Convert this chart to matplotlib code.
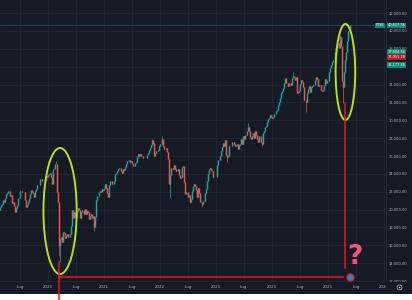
import matplotlib
matplotlib.use('Agg')
import matplotlib.pyplot as plt
import matplotlib.dates as mdates
from matplotlib.patches import Ellipse, Rectangle
from matplotlib.lines import Line2D
import numpy as np
import pandas as pd

# FTSE MIB, weekly closes (week ending Friday)
first_week = '2019-02-15'
first_open = 19700
closes = [
    # 2019
    19900, 20250,
    20500, 20600, 21100, 20900, 21300,
    21700, 21850, 22050, 21500,
    21600, 20750, 20800, 20400, 19750,
    20150, 20500, 21250, 21300,
    22100, 22050, 21950, 22000,
    21050, 20300, 20500, 20900, 21350,
    21700, 22150, 22000, 21900,
    21400, 22100, 22350, 22750,
    22800, 23400, 23450, 23150, 23150,
    23200, 23350, 23750, 23700,
    # 2020
    23850, 24000, 24150, 23700, 22900,
    24500, 25050, 25150, 21950,
    20800, 15950, 16750, 16950,
    16400, 17450, 17400, 16850,
    17050, 17300, 16900, 17300, 18200,
    20000, 19050, 19700, 19150,
    19750, 19850, 20200, 19950, 19100,
    19700, 19950, 19550, 20050,
    19550, 19850, 19700, 18950,
    19250, 19550, 19100, 19250, 18050,
    19150, 21050, 21500, 22000,
    22100, 21950, 22300, 22200,
    # 2021
    22250, 22850, 22400, 21900, 21400,
    22700, 23200, 23150, 22850,
    23250, 24000, 24100, 24350,
    24600, 24650, 24650, 24300, 24150,
    24500, 24450, 24750, 25100,
    25450, 25600, 25350, 25450,
    25100, 24850, 24900, 25250, 25350,
    25850, 26250, 25950, 26250,
    26050, 25750, 25750, 25750,
    25800, 26100, 26350, 26650, 26850,
    27250, 27750, 27500, 25950,
    26300, 26550, 26650, 27150, 27350,
    # 2022
    27400, 27950, 27100, 26750,
    26750, 26950, 26400, 25650,
    22900, 23850, 24700, 24550,
    25000, 24600, 24350, 24300, 24550,
    23900, 23500, 23700, 24750,
    24850, 23050, 21800, 21950,
    21450, 21600, 20900, 21200, 22100,
    22600, 22900, 22650, 22150,
    21450, 22450, 21850, 20900, 20650,
    21000, 20950, 21900, 22350,
    23150, 24000, 24550, 24700,
    24450, 24350, 23650, 23700, 23700,
    # 2023
    24950, 25550, 25600, 25950,
    26550, 27050, 27450, 27100,
    27800, 26150, 25900, 26000, 27100,
    27100, 27600, 27600, 27350,
    27100, 27200, 27300, 26750,
    27250, 27400, 27950, 27300, 28250,
    27900, 28300, 28850, 29300,
    28750, 28100, 27950, 28250,
    28600, 28050, 28800, 28400, 27900,
    27600, 28250, 27550, 27300,
    28600, 28800, 29300, 29400,
    29800, 30150, 30300, 30550, 30350,
    # 2024
    30200, 30400, 30650, 31000,
    31100, 31700, 32100, 32500,
    33100, 33300, 33650, 34200, 34750,
    34200, 34200, 33800, 34200,
    34000, 34700, 35000, 34850, 34550,
    34850, 33050, 33200, 33300,
    34100, 34500, 34300, 33700,
    32300, 32000, 33000, 33450, 33850,
    33150, 33700, 33850, 34000,
    33950, 34500, 34800, 34600,
    33850, 34000, 33350, 33250, 33350,
    33900, 34650, 34200, 34350,
    # 2025
    34450, 35400, 35900, 36200, 36550,
    36700, 37600, 38250, 38650,
    38650, 38050, 39300, 38350,
    34450, 33700, 35450, 36800,
    37700, 38900, 40050, 40617.56,
]
# visible wicks
high_weeks = ['2020-02-21', '2021-11-12', '2022-01-14', '2023-07-28', '2024-05-17', '2025-03-21', '2025-05-23']
high_vals = [25480, 27950, 28200, 29700, 35400, 39550, 40650]
low_weeks = ['2020-03-13', '2020-03-20', '2020-10-30', '2022-03-11', '2022-07-15', '2022-09-30',
             '2023-03-17', '2023-10-27', '2024-08-09', '2025-04-11']
low_vals = [14800, 14150, 17650, 21350, 20700, 20300, 25300, 27100, 30900, 31950]

price_ticks = list(range(12000, 42001, 2000))
hidden_ticks = [36000]  # sits fully under the scale tags
time_ticks = ['2019-07-01', '2020-01-01', '2020-07-01', '2021-01-01', '2021-07-01', '2022-01-01',
              '2022-07-01', '2023-01-01', '2023-07-01', '2024-01-01', '2024-07-01', '2025-01-01',
              '2025-07-01', '2026-01-01']
time_labels = ['Lug', '2020', 'Lug', '2021', 'Lug', '2022', 'Lug', '2023', 'Lug', '2024', 'Lug',
               '2025', 'Lug', '2026']
scale_tags = [37684.56, 37051.28, 36177.86]
scale_tag_colors = ['#0b8c74', '#a3262e', '#0b8c74']

# annotations
circle_centers = [('2020-03-19', 19840), ('2025-04-24', 35410)]
circle_sizes = [(217, 14110), (128, 10750)]
drop_dates = ['2020-03-09', '2025-04-21']
drop_lows = [14150, 31950]
drop_ends = [9800, 13460]
base_level = 12450
base_end = '2025-04-08'
now_date = '2025-05-23'

bg = '#161a25'
grid_c = '#222632'
txt_c = '#b2b5be'
up_c = '#26a69a'
dn_c = '#ef5350'

fig = plt.figure(figsize=(4.12, 3.0), dpi=100, facecolor=bg)
fig.add_artist(Rectangle((0, 0), 1, 6 / 300, transform=fig.transFigure, fc='white', ec='none', zorder=-1))
ax = fig.add_axes([0, 18 / 300, 386 / 412, 282 / 300])
ax.set_facecolor(bg)

fri = pd.date_range(first_week, periods=len(closes), freq='W-FRI')
x = mdates.date2num(fri - pd.Timedelta(days=2))
c = np.array(closes, dtype=float)
o = np.r_[first_open, c[:-1]]
hi = np.maximum(o, c)
lo = np.minimum(o, c)
for w, v in zip(high_weeks, high_vals):
    hi[fri.get_loc(pd.Timestamp(w))] = v
for w, v in zip(low_weeks, low_vals):
    lo[fri.get_loc(pd.Timestamp(w))] = v

up = c >= o
for m, col in ((up, up_c), (~up, dn_c)):
    ax.vlines(x[m], lo[m], hi[m], color=col, lw=0.5, zorder=3)
    ax.vlines(x[m], o[m], c[m], color=col, lw=1.05, zorder=3)

ax.set_xlim(mdates.date2num(pd.Timestamp('2019-02-21')), mdates.date2num(pd.Timestamp('2026-01-14')))
ax.set_ylim(11890, 43470)

ax.set_xticks(mdates.date2num(pd.to_datetime(time_ticks)))
ax.set_xticklabels(time_labels)
ax.set_yticks(price_ticks)
ax.set_yticklabels(['' if v in hidden_ticks else f'{v:,.2f}' for v in price_ticks])
ax.yaxis.tick_right()
ax.tick_params(axis='x', length=0, pad=2.4, labelsize=2.9, labelcolor=txt_c)
ax.tick_params(axis='y', length=0, pad=2.2, labelsize=2.6, labelcolor=txt_c)
ax.grid(True, color=grid_c, lw=0.6, zorder=0)
for s in ('top', 'left', 'bottom'):
    ax.spines[s].set_visible(False)
ax.spines['right'].set_color('#2a2e39')
ax.spines['right'].set_linewidth(0.6)

# last price line and scale tags
last = closes[-1]
ax.axhline(last, color='#1d4c4e', lw=0.7, zorder=2)
ytr = ax.get_yaxis_transform()
tag_kw = dict(transform=ytr, fontsize=2.5, color='white', va='center', clip_on=False, zorder=10)
box = 'square,pad=0.25'
ax.text(1.004, last, f'{last:,.2f}', ha='left',
        bbox=dict(boxstyle=box, fc='#0b8c74', ec='none'), **tag_kw)
ax.text(0.995, last, 'FTSE', ha='right',
        bbox=dict(boxstyle=box, fc='#0b8c74', ec='none'), **tag_kw)
for v, col in zip(scale_tags, scale_tag_colors):
    ax.text(1.004, v, f'{v:,.2f}', ha='left',
            bbox=dict(boxstyle=box, fc=col, ec='none'), **tag_kw)

# hand-drawn markup
lime = '#b5e21c'
red = '#e8171f'
for (d, v), (w, h) in zip(circle_centers, circle_sizes):
    ax.add_patch(Ellipse((mdates.date2num(pd.Timestamp(d)), v), w, h, fill=False,
                         ec=lime, lw=1.4, zorder=6))
for d, top, bot in zip(drop_dates, drop_lows, drop_ends):
    xd = mdates.date2num(pd.Timestamp(d))
    ax.plot([xd, xd], [top, bot], color=red, lw=1.1, clip_on=False, zorder=7)
x0 = mdates.date2num(pd.Timestamp(drop_dates[0]))
x1 = mdates.date2num(pd.Timestamp(base_end))
ax.plot([x0, x1], [base_level, base_level], color=red, lw=1.1, zorder=7)
xn = mdates.date2num(pd.Timestamp(now_date))
ax.plot([xn], [base_level], marker='o', ms=5, mfc='#2f7fdc', mec='#c8283c', mew=1.0, zorder=8)
ax.text(xn + 32, 13950, '?', color='#f2507d', fontsize=19, fontweight='bold',
        ha='center', va='baseline', zorder=8)

# time-axis corner under the price scale
fig.add_artist(Rectangle((386 / 412, 6 / 300), 26 / 412, 12 / 300, transform=fig.transFigure,
                         fc=bg, ec='none', zorder=5))
fig.add_artist(Line2D([399 / 412], [13 / 300], marker='o', ms=3.6, mfc='none', mec=txt_c, mew=0.5,
                      transform=fig.transFigure, zorder=6))
fig.add_artist(Line2D([399 / 412], [13 / 300], marker='o', ms=1.2, mfc=txt_c, mec='none',
                      transform=fig.transFigure, zorder=6))

plt.savefig('out.png', dpi=100, facecolor=fig.get_facecolor())
